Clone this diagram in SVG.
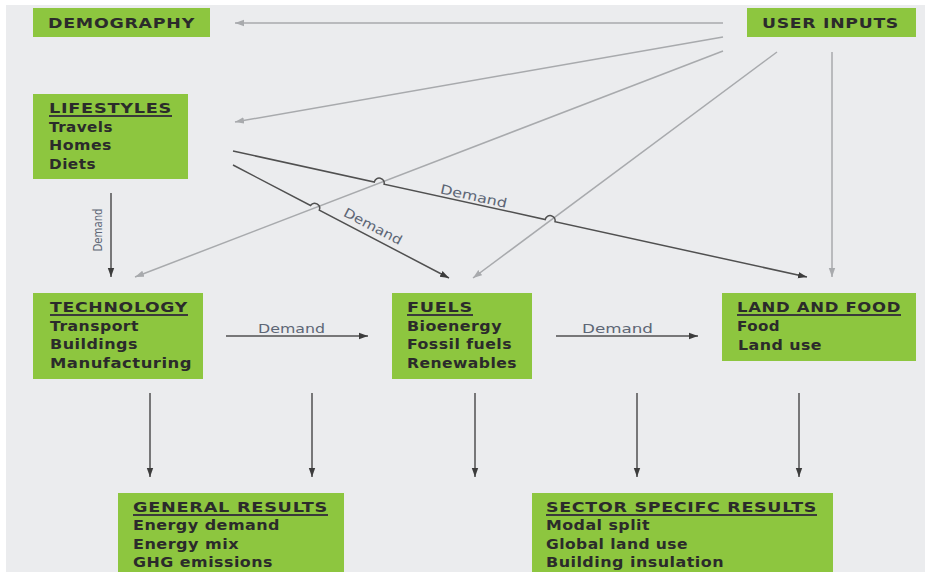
<svg xmlns="http://www.w3.org/2000/svg" width="925" height="572" viewBox="0 0 925 572">
<style>
.box{fill:#8dc63f}
.h{font-family:"DejaVu Sans","Liberation Sans",sans-serif;font-weight:bold;font-size:14.5px;fill:#2b2b2b;letter-spacing:0.6px}
.b{font-family:"DejaVu Sans","Liberation Sans",sans-serif;font-weight:bold;font-size:13.5px;fill:#2b2b2b;letter-spacing:0.4px}
.ul{stroke:#3a3a3a;stroke-width:2}
.g{stroke:#a8aaad;stroke-width:1.5;fill:none}
.d{stroke:#505050;stroke-width:1.5;fill:none}
.lbl{font-family:"DejaVu Sans","Liberation Sans",sans-serif;font-size:13px;fill:#5d6675}
</style>
<defs>
<marker id="ag" markerUnits="userSpaceOnUse" markerWidth="10" markerHeight="8" refX="9" refY="4" orient="auto"><path d="M0,0.8 L9,4 L0,7.2 Z" fill="#a8aaad"/></marker>
<marker id="ad" markerUnits="userSpaceOnUse" markerWidth="10" markerHeight="8" refX="9" refY="4" orient="auto"><path d="M0,0.8 L9,4 L0,7.2 Z" fill="#3c3c3c"/></marker>
</defs>
<rect width="925" height="572" fill="#ffffff"/>
<rect x="6" y="5" width="919" height="567" fill="#ebecee"/>

<g id="connectors">
<line class="g" x1="723" y1="23" x2="235" y2="23" marker-end="url(#ag)"/>
<line class="g" x1="723" y1="37" x2="235" y2="122" marker-end="url(#ag)"/>
<line class="g" x1="723" y1="51" x2="135" y2="277" marker-end="url(#ag)"/>
<line class="g" x1="777" y1="52" x2="473" y2="278" marker-end="url(#ag)"/>
<line class="g" x1="832" y1="52" x2="832" y2="277" marker-end="url(#ag)"/>
<path class="d" d="M233,151 L374.3,182 A5,5 0 0 1 384.1,184.2 L545.2,219.5 A5,5 0 0 1 555,221.7 L807,277" marker-end="url(#ad)"/>
<path class="d" d="M233,165 L310.5,205.5 A5,5 0 0 1 319.3,210.1 L449,278" marker-end="url(#ad)"/>
<line class="d" x1="111" y1="193" x2="111" y2="277" marker-end="url(#ad)"/>
<line class="d" x1="226" y1="336" x2="368" y2="336" marker-end="url(#ad)"/>
<line class="d" x1="556" y1="336" x2="698" y2="336" marker-end="url(#ad)"/>
<line class="d" x1="150" y1="393" x2="150" y2="477" marker-end="url(#ad)"/>
<line class="d" x1="312" y1="393" x2="312" y2="477" marker-end="url(#ad)"/>
<line class="d" x1="475" y1="393" x2="475" y2="477" marker-end="url(#ad)"/>
<line class="d" x1="637" y1="393" x2="637" y2="477" marker-end="url(#ad)"/>
<line class="d" x1="799" y1="393" x2="799" y2="477" marker-end="url(#ad)"/>
<text class="lbl" transform="translate(472,203.5) rotate(12.4)" x="0" y="-3" text-anchor="middle" textLength="68" lengthAdjust="spacingAndGlyphs">Demand</text>
<text class="lbl" transform="translate(368,235.6) rotate(27.6)" x="0" y="-6" text-anchor="middle" textLength="64" lengthAdjust="spacingAndGlyphs">Demand</text>
<text class="lbl" transform="translate(102,230) rotate(-90)" x="0" y="0" text-anchor="middle" textLength="43" lengthAdjust="spacingAndGlyphs">Demand</text>
<text class="lbl" x="258" y="333" textLength="67" lengthAdjust="spacingAndGlyphs">Demand</text>
<text class="lbl" x="582" y="333" textLength="71" lengthAdjust="spacingAndGlyphs">Demand</text>
</g>

<g id="demography">
<rect class="box" x="33" y="8" width="177" height="29"/>
<text class="h" x="48" y="28" textLength="147" lengthAdjust="spacingAndGlyphs">DEMOGRAPHY</text>
</g>

<g id="user-inputs">
<rect class="box" x="747" y="8" width="169" height="29"/>
<text class="h" x="762" y="28" textLength="137" lengthAdjust="spacingAndGlyphs">USER INPUTS</text>
</g>

<g id="lifestyles">
<rect class="box" x="33" y="94" width="155" height="85"/>
<text class="h" x="49" y="113" textLength="123" lengthAdjust="spacingAndGlyphs">LIFESTYLES</text>
<line class="ul" x1="49" y1="116" x2="172" y2="116"/>
<text class="b" x="49" y="132" textLength="64" lengthAdjust="spacingAndGlyphs">Travels</text>
<text class="b" x="49" y="150" textLength="63" lengthAdjust="spacingAndGlyphs">Homes</text>
<text class="b" x="49" y="169" textLength="47" lengthAdjust="spacingAndGlyphs">Diets</text>
</g>

<g id="technology">
<rect class="box" x="33" y="293" width="170" height="86"/>
<text class="h" x="50" y="312" textLength="138" lengthAdjust="spacingAndGlyphs">TECHNOLOGY</text>
<line class="ul" x1="50" y1="315" x2="188" y2="315"/>
<text class="b" x="50" y="331" textLength="89" lengthAdjust="spacingAndGlyphs">Transport</text>
<text class="b" x="50" y="349" textLength="88" lengthAdjust="spacingAndGlyphs">Buildings</text>
<text class="b" x="50" y="368" textLength="142" lengthAdjust="spacingAndGlyphs">Manufacturing</text>
</g>

<g id="fuels">
<rect class="box" x="392" y="293" width="140" height="86"/>
<text class="h" x="407" y="312" textLength="66" lengthAdjust="spacingAndGlyphs">FUELS</text>
<line class="ul" x1="407" y1="315" x2="473" y2="315"/>
<text class="b" x="407" y="331" textLength="95" lengthAdjust="spacingAndGlyphs">Bioenergy</text>
<text class="b" x="407" y="349" textLength="105" lengthAdjust="spacingAndGlyphs">Fossil fuels</text>
<text class="b" x="407" y="368" textLength="110" lengthAdjust="spacingAndGlyphs">Renewables</text>
</g>

<g id="land-and-food">
<rect class="box" x="722" y="293" width="194" height="68"/>
<text class="h" x="737" y="312" textLength="164" lengthAdjust="spacingAndGlyphs">LAND AND FOOD</text>
<line class="ul" x1="737" y1="315" x2="901" y2="315"/>
<text class="b" x="737" y="331" textLength="43" lengthAdjust="spacingAndGlyphs">Food</text>
<text class="b" x="738" y="350" textLength="84" lengthAdjust="spacingAndGlyphs">Land use</text>
</g>

<g id="general-results">
<rect class="box" x="118" y="493" width="226" height="79"/>
<text class="h" x="133" y="512" textLength="195" lengthAdjust="spacingAndGlyphs">GENERAL RESULTS</text>
<line class="ul" x1="133" y1="515" x2="328" y2="515"/>
<text class="b" x="133" y="530" textLength="147" lengthAdjust="spacingAndGlyphs">Energy demand</text>
<text class="b" x="133" y="549" textLength="106" lengthAdjust="spacingAndGlyphs">Energy mix</text>
<text class="b" x="133" y="567" textLength="140" lengthAdjust="spacingAndGlyphs">GHG emissions</text>
</g>

<g id="sector-results">
<rect class="box" x="532" y="493" width="301" height="79"/>
<text class="h" x="546" y="512" textLength="271" lengthAdjust="spacingAndGlyphs">SECTOR SPECIFC RESULTS</text>
<line class="ul" x1="546" y1="515" x2="817" y2="515"/>
<text class="b" x="546" y="530" textLength="104" lengthAdjust="spacingAndGlyphs">Modal split</text>
<text class="b" x="546" y="549" textLength="142" lengthAdjust="spacingAndGlyphs">Global land use</text>
<text class="b" x="546" y="567" textLength="178" lengthAdjust="spacingAndGlyphs">Building insulation</text>
</g>
</svg>
